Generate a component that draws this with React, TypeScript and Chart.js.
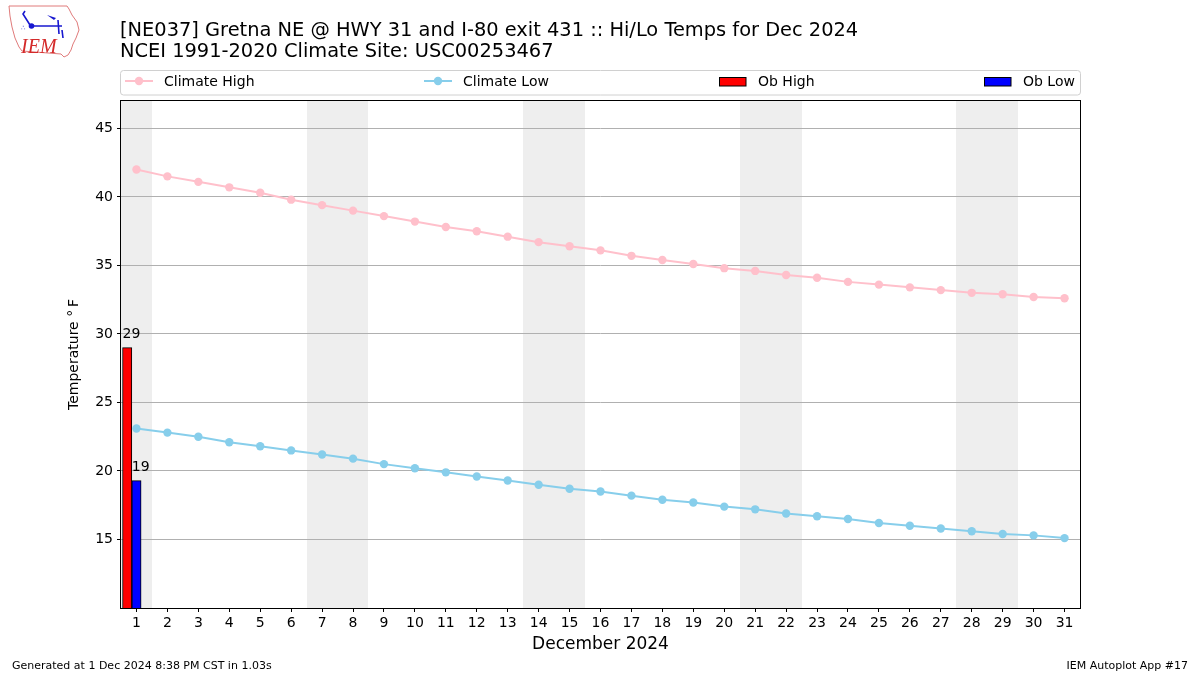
import React, { useEffect, useRef } from "react";
import { Chart, registerables } from "chart.js";

Chart.register(...registerables);

// ---------- data ----------
const days = [
  1, 2, 3, 4, 5, 6, 7, 8, 9, 10, 11, 12, 13, 14, 15, 16, 17, 18, 19, 20, 21, 22,
  23, 24, 25, 26, 27, 28, 29, 30, 31,
];
const climateHigh = [
  42.0, 41.5, 41.1, 40.7, 40.3, 39.8, 39.4, 39.0, 38.6, 38.2, 37.8, 37.5, 37.1,
  36.7, 36.4, 36.1, 35.7, 35.4, 35.1, 34.8, 34.6, 34.3, 34.1, 33.8, 33.6, 33.4,
  33.2, 33.0, 32.9, 32.7, 32.6,
];
const climateLow = [
  23.1, 22.8, 22.5, 22.1, 21.8, 21.5, 21.2, 20.9, 20.5, 20.2, 19.9, 19.6, 19.3,
  19.0, 18.7, 18.5, 18.2, 17.9, 17.7, 17.4, 17.2, 16.9, 16.7, 16.5, 16.2, 16.0,
  15.8, 15.6, 15.4, 15.3, 15.1,
];
const obDays = [1];
const obHigh = [29];
const obLow = [19.3];
const yTicks = [15, 20, 25, 30, 35, 40, 45];
const weekendDays = [1, 7, 8, 14, 15, 21, 22, 28, 29];
const seriesLabels = ["Climate High", "Climate Low", "Ob High", "Ob Low"];
const titleLines = [
  "[NE037] Gretna NE @ HWY 31 and I-80 exit 431 :: Hi/Lo Temps for Dec 2024",
  "NCEI 1991-2020 Climate Site: USC00253467",
];
const xTitle = "December 2024";
const yTitle = "Temperature \u00B0\u2009F";
const footerLeft = "Generated at 1 Dec 2024 8:38 PM CST in 1.03s";
const footerRight = "IEM Autoplot App #17";

// ---------- styles ----------
const FONT = '"DejaVu Sans", "Liberation Sans", sans-serif';
const COLORS = ["#ffc0cb", "#87ceeb", "#ff0000", "#0000ff"];
const HIGH_SHIFT = -0.3; // ob high bars sit left of the day, ob low on the day

const decorPlugin = {
  id: "decor",
  beforeDraw(chart: any) {
    const { ctx, chartArea: a, scales } = chart;
    const x = scales.x;
    ctx.save();
    ctx.fillStyle = "#ffffff";
    ctx.fillRect(0, 0, chart.width, chart.height);
    ctx.fillStyle = "#eeeeee";
    // merge consecutive weekend days into spans
    const spans: number[][] = [];
    weekendDays.forEach((d) => {
      const last = spans[spans.length - 1];
      if (last && last[1] === d - 1) last[1] = d;
      else spans.push([d, d]);
    });
    spans.forEach(([s, e]) => {
      const x0 = Math.round(x.getPixelForValue(s - 0.5));
      const x1 = Math.round(x.getPixelForValue(e + 0.5));
      ctx.fillRect(x0, a.top, x1 - x0, a.bottom - a.top);
    });
    ctx.restore();
  },
  afterDatasetsDraw(chart: any) {
    const { ctx } = chart;
    ctx.save();
    ctx.fillStyle = "#000";
    ctx.font = `14px ${FONT}`;
    ctx.textAlign = "left";
    ctx.textBaseline = "alphabetic";
    [2, 3].forEach((di) => {
      const meta = chart.getDatasetMeta(di);
      const ds = chart.data.datasets[di];
      meta.data.forEach((el: any, i: number) => {
        const v = ds.data[i].y;
        ctx.fillText(String(Math.round(v)), el.x - el.width / 2, el.y - 10);
      });
    });
    ctx.restore();
  },
  afterDraw(chart: any) {
    const { ctx, chartArea: a } = chart;
    ctx.save();
    // frame
    ctx.strokeStyle = "#000";
    ctx.lineWidth = 1;
    ctx.strokeRect(a.left - 0.5, a.top - 0.5, a.right - a.left + 1, a.bottom - a.top + 1);

    // titles
    ctx.fillStyle = "#000";
    ctx.font = `19.4px ${FONT}`;
    ctx.textAlign = "left";
    ctx.textBaseline = "alphabetic";
    ctx.fillText(titleLines[0], 120, 36);
    ctx.fillText(titleLines[1], 120, 57);

    // legend box
    ctx.beginPath();
    ctx.roundRect(a.left - 0.5, 70.5, a.right - a.left + 1, 24.5, 3);
    ctx.fillStyle = "rgba(255,255,255,0.8)";
    ctx.fill();
    ctx.strokeStyle = "#d0d0d0";
    ctx.stroke();

    const itemX = [125, 424, 719, 984];
    const ly = 81;
    ctx.font = `14px ${FONT}`;
    chart.data.datasets.forEach((ds: any, i: number) => {
      const hx = itemX[i];
      if (i < 2) {
        ctx.strokeStyle = ds.borderColor;
        ctx.lineWidth = 2;
        ctx.beginPath();
        ctx.moveTo(hx, ly);
        ctx.lineTo(hx + 28, ly);
        ctx.stroke();
        ctx.fillStyle = ds.borderColor;
        ctx.beginPath();
        ctx.arc(hx + 14, ly, 4.2, 0, Math.PI * 2);
        ctx.fill();
      } else {
        ctx.fillStyle = ds.backgroundColor;
        ctx.fillRect(hx, 77.5, 27, 8.5);
        ctx.strokeStyle = "#000";
        ctx.lineWidth = 1;
        ctx.strokeRect(hx + 0.5, 77.5, 26.5, 8.5);
      }
      ctx.fillStyle = "#000";
      ctx.fillText(ds.label, hx + 39, 86);
    });

    // footer
    ctx.font = `11px ${FONT}`;
    ctx.fillStyle = "#000";
    ctx.textAlign = "left";
    ctx.fillText(footerLeft, 12, 669);
    ctx.textAlign = "right";
    ctx.fillText(footerRight, 1188, 669);

    // logo (simplified IEM mark)
    ctx.strokeStyle = "#e07b7b";
    ctx.lineWidth = 1;
    const outline = [
      [9, 6], [67, 6], [69, 9], [72, 15], [77, 22], [79, 30], [76, 38], [73, 44],
      [71, 50], [68, 55], [64, 57], [61, 54], [22, 51], [19, 47], [15, 38],
      [12, 27], [10, 16],
    ];
    ctx.beginPath();
    outline.forEach(([px, py], i) => (i ? ctx.lineTo(px, py) : ctx.moveTo(px, py)));
    ctx.closePath();
    ctx.stroke();
    ctx.strokeStyle = "#1818d0";
    ctx.fillStyle = "#1818d0";
    ctx.lineWidth = 1.6;
    ctx.beginPath();
    ctx.moveTo(25, 11);
    ctx.lineTo(23, 14);
    ctx.lineTo(30, 25);
    ctx.moveTo(32, 26);
    ctx.lineTo(62, 26);
    ctx.moveTo(58, 20);
    ctx.lineTo(59, 34);
    ctx.moveTo(62, 30);
    ctx.lineTo(63, 38);
    ctx.stroke();
    ctx.beginPath();
    ctx.arc(31.5, 26, 2.8, 0, Math.PI * 2);
    ctx.fill();
    ctx.beginPath();
    ctx.moveTo(47, 15);
    ctx.lineTo(56, 18);
    ctx.lineTo(54, 20);
    ctx.closePath();
    ctx.fill();
    ctx.font = `7px ${FONT}`;
    ctx.textAlign = "left";
    ctx.fillText("\u2234", 21, 30);
    ctx.fillStyle = "#d42a2a";
    ctx.font = `italic 20px "Liberation Serif", "DejaVu Serif", serif`;
    ctx.fillText("IEM", 21, 53);
    ctx.restore();
  },
};

export default function App() {
  const ref = useRef<HTMLCanvasElement | null>(null);

  useEffect(() => {
    if (!ref.current) return;
    const chart = new Chart(ref.current, {
      type: "line",
      data: {
        datasets: [
          {
            type: "line",
            label: seriesLabels[0],
            data: days.map((d, i) => ({ x: d, y: climateHigh[i] })),
            borderColor: COLORS[0],
            backgroundColor: COLORS[0],
            borderWidth: 2,
            pointRadius: 4.2,
            pointHoverRadius: 4.2,
            pointBorderWidth: 0,
            pointBackgroundColor: COLORS[0],
            tension: 0,
          },
          {
            type: "line",
            label: seriesLabels[1],
            data: days.map((d, i) => ({ x: d, y: climateLow[i] })),
            borderColor: COLORS[1],
            backgroundColor: COLORS[1],
            borderWidth: 2,
            pointRadius: 4.2,
            pointHoverRadius: 4.2,
            pointBorderWidth: 0,
            pointBackgroundColor: COLORS[1],
            tension: 0,
          },
          {
            type: "bar",
            label: seriesLabels[2],
            data: obDays.map((d, i) => ({ x: d + HIGH_SHIFT, y: obHigh[i] })),
            backgroundColor: COLORS[2],
            borderColor: "#000",
            borderWidth: 1,
            grouped: false,
            categoryPercentage: 1,
            barPercentage: 1,
          },
          {
            type: "bar",
            label: seriesLabels[3],
            data: obDays.map((d, i) => ({ x: d, y: obLow[i] })),
            backgroundColor: COLORS[3],
            borderColor: "#000",
            borderWidth: 1,
            grouped: false,
            categoryPercentage: 1,
            barPercentage: 1,
          },
        ] as any,
      },
      options: {
        responsive: false,
        animation: false,
        events: [],
        layout: { padding: { left: 66, right: 120, top: 101, bottom: 20 } },
        plugins: {
          legend: { display: false },
          title: { display: false },
          tooltip: { enabled: false },
        },
        scales: {
          x: {
            type: "linear",
            min: 0.5,
            max: 31.5,
            offset: false,
            afterBuildTicks: (s: any) => {
              s.ticks = days.map((v) => ({ value: v }));
            },
            afterFit: (s: any) => {
              s.height = 47;
            },
            grid: {
              display: true,
              drawOnChartArea: false,
              drawTicks: true,
              tickLength: 4,
              tickColor: "#000",
              offset: false,
            },
            border: { display: false },
            ticks: {
              autoSkip: false,
              maxRotation: 0,
              minRotation: 0,
              padding: 3,
              color: "#000",
              font: { family: FONT, size: 14 },
              callback: (v: any) => String(v),
            },
            title: {
              display: true,
              text: xTitle,
              color: "#000",
              font: { family: FONT, size: 17 },
              padding: { top: 0, bottom: 0 },
            },
          },
          y: {
            type: "linear",
            min: 10,
            max: 47,
            afterBuildTicks: (s: any) => {
              s.ticks = yTicks.map((v) => ({ value: v }));
            },
            afterFit: (s: any) => {
              s.width = 55;
            },
            grid: {
              color: "#b0b0b0",
              lineWidth: 1,
              tickLength: 4,
              tickColor: "#000",
            },
            border: { display: false },
            ticks: {
              padding: 4,
              color: "#000",
              font: { family: FONT, size: 14 },
              callback: (v: any) => String(v),
            },
            title: {
              display: true,
              text: yTitle,
              color: "#000",
              font: { family: FONT, size: 14 },
              padding: { top: 0, bottom: 0 },
            },
          },
        },
      } as any,
      plugins: [decorPlugin],
    });
    return () => chart.destroy();
  }, []);

  return (
    <div style={{ position: "fixed", left: 0, top: 0, width: 1200, height: 675, background: "#fff" }}>
      <canvas ref={ref} width={1200} height={675} style={{ display: "block" }} />
    </div>
  );
}
